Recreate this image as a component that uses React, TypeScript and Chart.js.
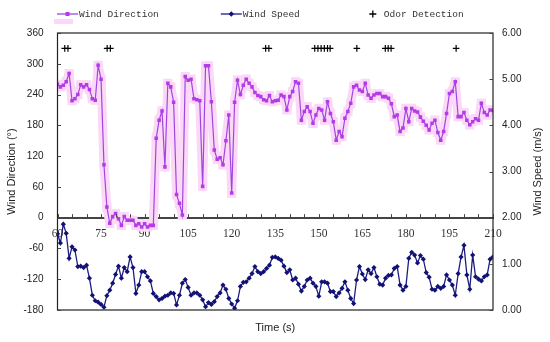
import React, { useEffect, useRef } from 'react';
import { Chart, registerables } from 'chart.js';

Chart.register(...registerables);

// Time stamps (s)
const TIME_S = [
  60, 61, 62, 63, 64, 65, 66, 67, 68, 69, 70, 71, 72, 73, 74, 75, 76, 77, 78, 79,
  80, 81, 82, 83, 84, 85, 86, 87, 88, 89, 90, 91, 92, 93, 94, 95, 96, 97, 98, 99,
  100, 101, 102, 103, 104, 105, 106, 107, 108, 109, 110, 111, 112, 113, 114, 115, 116, 117, 118, 119,
  120, 121, 122, 123, 124, 125, 126, 127, 128, 129, 130, 131, 132, 133, 134, 135, 136, 137, 138, 139,
  140, 141, 142, 143, 144, 145, 146, 147, 148, 149, 150, 151, 152, 153, 154, 155, 156, 157, 158, 159,
  160, 161, 162, 163, 164, 165, 166, 167, 168, 169, 170, 171, 172, 173, 174, 175, 176, 177, 178, 179,
  180, 181, 182, 183, 184, 185, 186, 187, 188, 189, 190, 191, 192, 193, 194, 195, 196, 197, 198, 199,
  200, 201, 202, 203, 204, 205, 206, 207, 208, 209, 210,
];

// Wind direction (degrees)
const WIND_DIRECTION = [
  260, 255, 258, 265, 281, 228, 232, 240, 259, 255, 259, 250, 232, 229, 297, 270, 103, 21, -11, 2,
  8, -2, -15, 2, -5, -5, -5, -15, -12, -18, -12, -18, -15, -15, 155, 190, 208, 99, 262, 255,
  225, 45, 28, 5, 275, 268, 270, 232, 230, 228, 61, 296, 296, 226, 132, 114, 117, 103, 150, 200,
  48, 225, 268, 240, 258, 270, 262, 255, 244, 238, 236, 230, 228, 238, 226, 228, 229, 239, 236, 210,
  236, 246, 265, 262, 190, 207, 216, 207, 184, 200, 213, 210, 190, 226, 203, 187, 151, 168, 158, 194,
  207, 223, 255, 258, 249, 246, 262, 239, 233, 239, 242, 242, 236, 236, 233, 222, 197, 200, 168, 175,
  213, 187, 213, 208, 206, 196, 188, 180, 171, 184, 190, 166, 151, 168, 203, 242, 246, 265, 197, 197,
  205, 190, 181, 187, 193, 190, 223, 205, 200, 210, 209,
];

// Wind speed (m/s)
const WIND_SPEED = [
  1.65, 1.45, 1.86, 1.66, 1.12, 1.37, 1.30, 0.94, 0.95, 0.92, 0.97, 0.69, 0.32, 0.20, 0.17, 0.12, 0.06, 0.31, 0.43, 0.58,
  0.77, 0.95, 0.69, 0.92, 0.83, 1.15, 0.92, 0.36, 0.54, 0.83, 0.83, 0.72, 0.63, 0.36, 0.29, 0.22, 0.25, 0.30, 0.32, 0.37,
  0.36, 0.11, 0.32, 0.58, 0.66, 0.49, 0.32, 0.37, 0.37, 0.32, 0.22, 0.07, 0.16, 0.12, 0.18, 0.29, 0.37, 0.54, 0.45, 0.25,
  0.13, 0.04, 0.20, 0.51, 0.60, 0.61, 0.69, 0.79, 0.94, 0.83, 0.79, 0.83, 0.90, 0.97, 1.14, 1.15, 1.12, 1.08, 0.95, 0.81,
  0.87, 0.65, 0.69, 0.56, 0.41, 0.51, 0.65, 0.69, 0.58, 0.51, 0.30, 0.61, 0.61, 0.58, 0.40, 0.40, 0.29, 0.37, 0.47, 0.61,
  0.43, 0.25, 0.14, 0.65, 0.94, 0.78, 0.66, 0.87, 0.79, 0.92, 0.72, 0.56, 0.54, 0.69, 0.75, 0.76, 0.90, 0.94, 0.54, 0.43,
  0.51, 1.12, 1.25, 1.19, 1.02, 1.18, 1.10, 0.81, 0.71, 0.45, 0.43, 0.51, 0.47, 0.51, 0.76, 0.65, 0.54, 0.32, 0.79, 1.15,
  1.40, 0.76, 0.45, 1.19, 0.72, 0.67, 0.63, 0.72, 0.76, 1.10, 1.15,
];

// Odor detection events (s) and the level they are plotted at (degrees axis)
const ODOR_TIMES = [
  62.5, 63.6,
  77.1, 78.2,
  131.7, 132.8,
  148.6, 149.7, 150.8, 151.9, 153.0, 153.9,
  163.1,
  172.9, 173.9, 174.9,
  197.3,
];
const ODOR_LEVEL = 330;

const X_TICK_LABEL_STEP = 15;
const X_MIN = 60;
const X_MAX = 210;
const DIR_MIN = -180;
const DIR_MAX = 360;
const DIR_STEP = 60;
const SPEED_MIN = 0;
const SPEED_MAX = 6;
const SPEED_STEP = 1;

const LEGEND_LABELS = ['Wind Direction', 'Wind Speed', 'Odor Detection'];

const DIR_LINE = '#a046e0';
const DIR_POINT = '#b53be8';
const HALO = '#fbd8f7';
const SPEED_LINE = '#1c1c82';
const SPEED_POINT = '#121275';
const SANS = '"Liberation Sans", Arial, sans-serif';

const decorPlugin = {
  id: 'decor',
  afterDraw(chart: any) {
    const { ctx, chartArea: ca, scales } = chart;
    const xs = scales.x;
    const ys = scales.y;
    const y1 = scales.y1;
    ctx.save();

    // frame
    ctx.strokeStyle = '#222';
    ctx.lineWidth = 1.2;
    ctx.strokeRect(ca.left, ca.top, ca.right - ca.left, ca.bottom - ca.top);

    // x ticks (inward, upward from the zero line)
    const axisY = ys.getPixelForValue(0);
    ctx.strokeStyle = '#444';
    ctx.lineWidth = 1;
    ctx.beginPath();
    xs.ticks.forEach((t: any) => {
      const px = Math.round(xs.getPixelForValue(t.value)) + 0.5;
      ctx.moveTo(px, axisY);
      ctx.lineTo(px, axisY - 3.5);
    });
    // left ticks
    ys.ticks.forEach((t: any) => {
      const py = Math.round(ys.getPixelForValue(t.value)) + 0.5;
      ctx.moveTo(ca.left, py);
      ctx.lineTo(ca.left + 3.5, py);
    });
    // right ticks
    y1.ticks.forEach((t: any) => {
      const py = Math.round(y1.getPixelForValue(t.value)) + 0.5;
      ctx.moveTo(ca.right, py);
      ctx.lineTo(ca.right - 3.5, py);
    });
    ctx.stroke();

    // axis titles
    ctx.fillStyle = '#222';
    ctx.font = '11px ' + SANS;
    ctx.textAlign = 'center';
    ctx.textBaseline = 'middle';
    const midY = (ca.top + ca.bottom) / 2;
    ctx.save();
    ctx.translate(12, midY);
    ctx.rotate(-Math.PI / 2);
    ctx.fillText('Wind Direction (°)', 0, 0);
    ctx.restore();
    ctx.save();
    ctx.translate(chart.width - 12, midY);
    ctx.rotate(-Math.PI / 2);
    ctx.fillText('Wind Speed (m/s)', 0, 0);
    ctx.restore();
    ctx.fillText('Time (s)', (ca.left + ca.right) / 2, ca.bottom + 18);

    // legend
    const ly = 14;
    let lx = 57;
    ctx.font = '9.5px "Liberation Mono", "Courier New", monospace';
    ctx.textAlign = 'left';
    LEGEND_LABELS.forEach((label, i) => {
      if (i === 0) {
        ctx.fillStyle = HALO;
        ctx.fillRect(lx - 3, ly + 5, 19, 5);
        ctx.strokeStyle = DIR_LINE;
        ctx.lineWidth = 1.3;
        ctx.beginPath();
        ctx.moveTo(lx, ly);
        ctx.lineTo(lx + 21, ly);
        ctx.stroke();
        ctx.fillStyle = DIR_POINT;
        ctx.fillRect(lx + 8.5, ly - 2, 4, 4);
      } else if (i === 1) {
        ctx.strokeStyle = SPEED_LINE;
        ctx.lineWidth = 1.3;
        ctx.beginPath();
        ctx.moveTo(lx, ly);
        ctx.lineTo(lx + 21, ly);
        ctx.stroke();
        ctx.fillStyle = SPEED_POINT;
        ctx.beginPath();
        ctx.moveTo(lx + 10.5, ly - 2.7);
        ctx.lineTo(lx + 13.2, ly);
        ctx.lineTo(lx + 10.5, ly + 2.7);
        ctx.lineTo(lx + 7.8, ly);
        ctx.closePath();
        ctx.fill();
      } else {
        ctx.strokeStyle = '#000';
        ctx.lineWidth = 1.3;
        ctx.beginPath();
        ctx.moveTo(lx + 11, ly - 3.5);
        ctx.lineTo(lx + 11, ly + 3.5);
        ctx.moveTo(lx + 7.5, ly);
        ctx.lineTo(lx + 14.5, ly);
        ctx.stroke();
      }
      ctx.fillStyle = '#333';
      ctx.fillText(label, lx + 22, ly + 0.5);
      lx += 22 + ctx.measureText(label).width + 62;
    });

    ctx.restore();
  },
};

export default function App() {
  const canvasRef = useRef<HTMLCanvasElement | null>(null);

  useEffect(() => {
    document.body.style.margin = '0';
    const canvas = canvasRef.current;
    if (!canvas) return;

    const dirData = TIME_S.map((t, i) => ({ x: t, y: WIND_DIRECTION[i] }));
    const speedData = TIME_S.map((t, i) => ({ x: t, y: WIND_SPEED[i] }));
    const odorData = ODOR_TIMES.map((t) => ({ x: t, y: ODOR_LEVEL }));

    const chart = new Chart(canvas, {
      type: 'line',
      data: {
        datasets: [
          {
            label: 'halo',
            data: dirData,
            yAxisID: 'y',
            borderColor: HALO,
            backgroundColor: HALO,
            borderWidth: 9,
            borderJoinStyle: 'round',
            borderCapStyle: 'round',
            pointStyle: 'rect',
            pointRadius: 6.5,
            pointBorderWidth: 0,
            pointBackgroundColor: HALO,
            order: 4,
          },
          {
            label: 'Wind Speed',
            data: speedData,
            yAxisID: 'y1',
            borderColor: SPEED_LINE,
            borderWidth: 1.3,
            pointStyle: 'rectRot',
            pointRadius: 2.6,
            pointBorderWidth: 0,
            pointBackgroundColor: SPEED_POINT,
            order: 3,
          },
          {
            label: 'Wind Direction',
            data: dirData,
            yAxisID: 'y',
            borderColor: DIR_LINE,
            borderWidth: 1.2,
            pointStyle: 'rect',
            pointRadius: 2.5,
            pointBorderWidth: 0,
            pointBackgroundColor: DIR_POINT,
            order: 2,
          },
          {
            label: 'Odor Detection',
            data: odorData,
            yAxisID: 'y',
            showLine: false,
            pointStyle: 'cross',
            pointRadius: 3.3,
            pointBorderWidth: 1.2,
            pointBorderColor: '#000',
            borderColor: '#000',
            order: 1,
          },
        ],
      },
      options: {
        responsive: false,
        animation: false,
        events: [],
        layout: { padding: { top: 33, bottom: 32, left: 0, right: 0 } },
        plugins: {
          legend: { display: false },
          tooltip: { enabled: false },
          title: { display: false },
        },
        scales: {
          x: {
            type: 'linear',
            min: X_MIN,
            max: X_MAX,
            position: { y: 0 } as any,
            grid: { display: false, drawTicks: false },
            border: { display: true, color: '#444', width: 2 },
            ticks: {
              stepSize: 5,
              autoSkip: false,
              maxRotation: 0,
              padding: 9,
              color: '#333',
              font: { family: '"Liberation Serif", "Times New Roman", serif', size: 11.5 },
              callback: (v: any) => ((Number(v) - X_MIN) % X_TICK_LABEL_STEP === 0 ? String(v) : ''),
            },
          },
          y: {
            type: 'linear',
            position: 'left',
            min: DIR_MIN,
            max: DIR_MAX,
            grid: { display: false, drawTicks: false },
            border: { display: false },
            ticks: {
              stepSize: DIR_STEP,
              padding: 14,
              color: '#222',
              font: { family: SANS, size: 10 },
            },
            afterFit: (s: any) => {
              s.width = 57.5;
            },
          },
          y1: {
            type: 'linear',
            position: 'right',
            min: SPEED_MIN,
            max: SPEED_MAX,
            grid: { display: false, drawTicks: false },
            border: { display: false },
            ticks: {
              stepSize: SPEED_STEP,
              padding: 9,
              color: '#222',
              font: { family: SANS, size: 10 },
              callback: (v: any) => Number(v).toFixed(2),
            },
            afterFit: (s: any) => {
              s.width = 57;
            },
          },
        },
      },
      plugins: [decorPlugin],
    });

    return () => chart.destroy();
  }, []);

  return (
    <div style={{ width: 550, height: 342 }}>
      <canvas ref={canvasRef} width={550} height={342} />
    </div>
  );
}
